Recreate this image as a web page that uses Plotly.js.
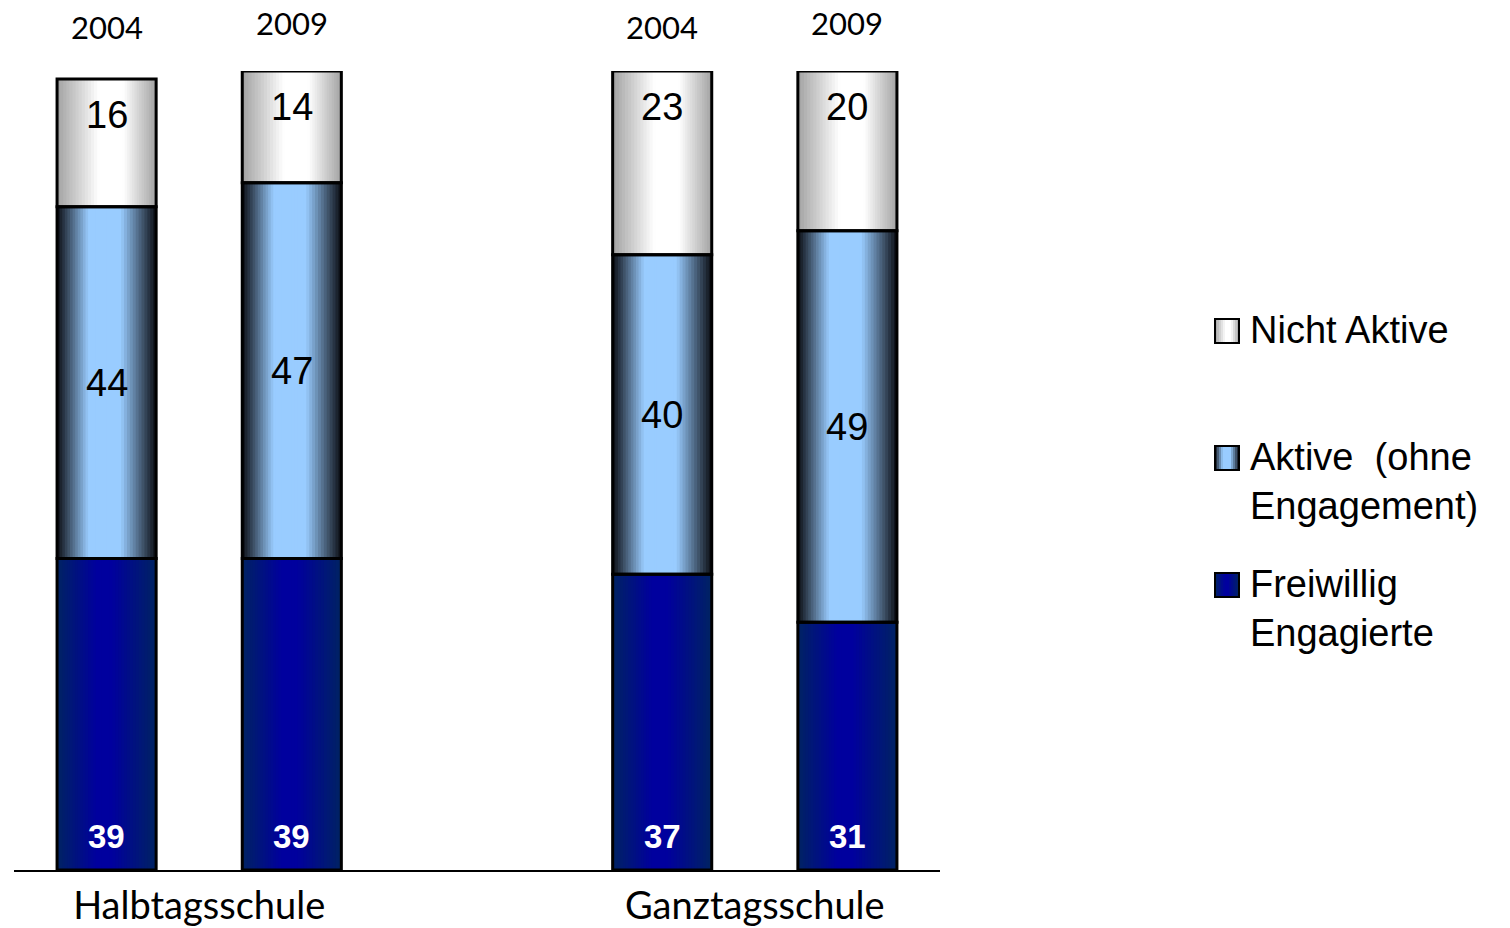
<!DOCTYPE html>
<html>
<head>
<meta charset="utf-8">
<script src="https://cdn.plot.ly/plotly-3.0.1.min.js"></script>
<style>html,body{margin:0;padding:0;background:#ffffff;}</style>
</head>
<body>
<div id="chart" style="width:1510px;height:928px;"></div>
<script>
// Survey shares (%) by school type and year
const years = ['2004', '2009', '2004', '2009'];
const groups = ['Halbtagsschule', 'Ganztagsschule'];
const seriesNames = ['Freiwillig Engagierte', 'Aktive (ohne Engagement)', 'Nicht Aktive'];
const legendLabels = ['Freiwillig<br>Engagierte', 'Aktive&nbsp; (ohne<br>Engagement)', 'Nicht Aktive'];
const freiwillig = [39, 39, 37, 31];
const aktive = [44, 47, 40, 49];
const nichtAktive = [16, 14, 23, 20];

// ---- page geometry ----
const W = 1510, H = 928;
const M = {l: 14, r: 570, t: 71, b: 58};
const plotW = W - M.l - M.r, plotH = H - M.t - M.b;
const px2x = px => (px - M.l) / plotW;          // pixel -> paper x
const py2y = py => (H - M.b - py) / plotH;      // pixel -> paper y

// two year slots per school type, one empty slot between the types
const xpos = years.map((_, i) => Math.floor(i / 2) * 3 + (i % 2));
const groupCenters = groups.map((_, g) => g * 3 + 0.5);
const barW = 0.535;

const series = [freiwillig, aktive, nichtAktive];
const bases = series.map((_, s) =>
  xpos.map((_, i) => series.slice(0, s).reduce((acc, arr) => acc + arr[i], 0)));

// horizontal shading of each series: edge colour -> peak colour at position `at`,
// `flat` widens the bright plateau around the peak
const shading = [
  {edge: [0, 34, 100], peak: [0, 0, 158], at: 0.47, flat: 1.15},
  {edge: [16, 20, 28], peak: [153, 204, 255], at: 0.47, flat: 1.45},
  {edge: [165, 165, 165], peak: [255, 255, 255], at: 0.56, flat: 1.3}
];
const mix = (a, b, t) => 'rgb(' + a.map((v, k) => Math.round(v + (b[k] - v) * t)).join(',') + ')';
const ramp = (t, sh) => Math.min(1, t * sh.flat);

const BANDS = 18;
const traces = [];

// gradient bands: nested bars shrinking towards the shading peak
series.forEach((vals, s) => {
  const sh = shading[s];
  for (let k = 0; k < BANDS; k++) {
    const f = k / BANDS;
    const left = -barW / 2 + f * sh.at * barW;
    traces.push({
      type: 'bar', x: xpos, y: vals, base: bases[s],
      width: barW * (1 - f), offset: left,
      marker: {color: mix(sh.edge, sh.peak, ramp(k / (BANDS - 1), sh)), line: {width: 0}},
      hoverinfo: 'skip', showlegend: false
    });
  }
});

// outlined segments on top of the shading
series.forEach((vals, s) => {
  traces.push({
    type: 'bar', x: xpos, y: vals, base: bases[s], name: seriesNames[s],
    width: barW, offset: -barW / 2,
    marker: {color: 'rgba(0,0,0,0)', line: {color: '#000000', width: 3}},
    hovertemplate: '%{y}<extra>' + seriesNames[s] + '</extra>',
    showlegend: false
  });
});

const valueFont = 'Liberation Sans, Arial, sans-serif';
const annotations = [];

// value labels: bottom segment near the base, middle centred, top near the top
series.forEach((vals, s) => {
  vals.forEach((v, i) => {
    const a = {x: xpos[i], xref: 'x', yref: 'y', text: String(v), showarrow: false,
               xanchor: 'center', yanchor: 'middle'};
    if (s === 0) {
      a.y = bases[s][i]; a.yshift = 34;
      a.font = {family: valueFont, size: 33, color: '#ffffff', weight: 'bold'};
    } else if (s === 1) {
      a.y = bases[s][i] + v / 2;
      a.font = {family: valueFont, size: 38, color: '#000000'};
    } else {
      a.y = bases[s][i] + v; a.yshift = -36;
      a.font = {family: valueFont, size: 38, color: '#000000'};
    }
    annotations.push(a);
  });
});

// year labels above the bars
years.forEach((yr, i) => {
  annotations.push({x: xpos[i], xref: 'x', y: py2y(i % 2 ? 23 : 27), yref: 'paper',
    text: yr, showarrow: false, xanchor: 'center', yanchor: 'middle',
    font: {family: 'Lato, sans-serif', size: 31, color: '#000000'}});
});

// legend drawn beside the plot: shaded swatch + label, top entry = top segment
const shapes = [];
const legendTop = 331, legendStep = 127, swL = 1215, swSize = 24, SLICES = 12;
seriesNames.slice().reverse().forEach((nm, r) => {
  const s = seriesNames.length - 1 - r;
  const sh = shading[s];
  const cy = legendTop + r * legendStep;
  for (let j = 0; j < SLICES; j++) {
    const u = (j + 0.5) / SLICES;
    const t = u < sh.at ? u / sh.at : (1 - u) / (1 - sh.at);
    shapes.push({type: 'rect', xref: 'paper', yref: 'paper',
      x0: px2x(swL + j * swSize / SLICES), x1: px2x(swL + (j + 1) * swSize / SLICES + 0.5),
      y0: py2y(cy + swSize / 2), y1: py2y(cy - swSize / 2),
      fillcolor: mix(sh.edge, sh.peak, ramp(t, sh)), line: {width: 0}});
  }
  shapes.push({type: 'rect', xref: 'paper', yref: 'paper',
    x0: px2x(swL), x1: px2x(swL + swSize), y0: py2y(cy + swSize / 2), y1: py2y(cy - swSize / 2),
    fillcolor: 'rgba(0,0,0,0)', line: {color: '#000000', width: 2}});
  annotations.push({x: px2x(1248), xref: 'paper', y: py2y(cy - 24), yref: 'paper',
    text: legendLabels[s], showarrow: false, xanchor: 'left', yanchor: 'top', align: 'left',
    font: {family: valueFont, size: 38, color: '#000000'}});
});

const layout = {
  width: W, height: H,
  margin: M,
  paper_bgcolor: '#ffffff', plot_bgcolor: '#ffffff',
  barmode: 'overlay',
  showlegend: false,
  xaxis: {range: [-0.5, 4.5], showgrid: false, zeroline: false,
          showline: true, linecolor: '#000000', linewidth: 2,
          ticks: '', tickvals: groupCenters, ticktext: groups, ticklabelstandoff: 1,
          tickfont: {family: 'Lato, sans-serif', size: 38, color: '#000000'}, fixedrange: true},
  yaxis: {range: [0, 100], visible: false, fixedrange: true},
  annotations: annotations,
  shapes: shapes
};

Plotly.newPlot('chart', traces, layout, {displayModeBar: false});
</script>
</body>
</html>
